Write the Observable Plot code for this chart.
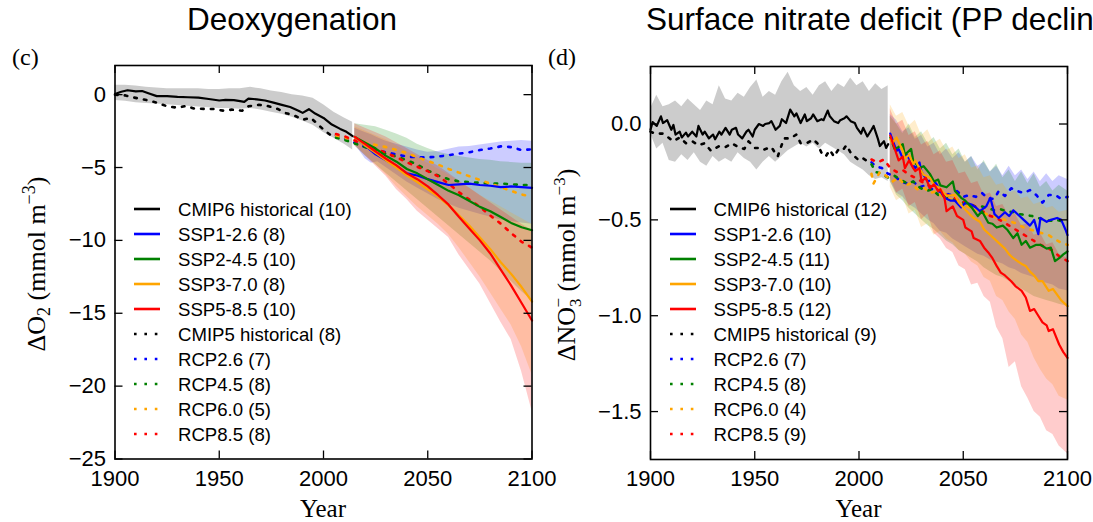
<!DOCTYPE html>
<html><head><meta charset="utf-8">
<script src="https://cdn.jsdelivr.net/npm/d3@7"></script>
<script src="https://cdn.jsdelivr.net/npm/@observablehq/plot@0.6"></script>
<style>
html,body{margin:0;padding:0;background:#fff;overflow:hidden;}
#root{position:relative;width:1093px;height:522px;overflow:hidden;background:#fff;}
.panel{position:absolute;top:0;}
#overlay{position:absolute;left:0;top:0;pointer-events:none;}
</style></head><body><div id="root"><div id="p1" class="panel" style="left:0;width:546px"></div><div id="p2" class="panel" style="left:546px;width:547px"></div></div>
<script>
// ---------- shared ----------
const xTicks = [1900, 1950, 2000, 2050, 2100];
const o2Ticks = [0, -5, -10, -15, -20, -25];
const no3Ticks = [0, -0.5, -1.0, -1.5];
const seriesColors = ["black", "#0000ff", "#008000", "#ffa500", "#ff0000"];
const titles = ["Deoxygenation", "Surface nitrate deficit (PP decline)"];
const panelLetters = ["(c)", "(d)"];
const o2Legend = ["CMIP6 historical (10)", "SSP1-2.6 (8)", "SSP2-4.5 (10)", "SSP3-7.0 (8)", "SSP5-8.5 (10)", "CMIP5 historical (8)", "RCP2.6 (7)", "RCP4.5 (8)", "RCP6.0 (5)", "RCP8.5 (8)"];
const no3Legend = ["CMIP6 historical (12)", "SSP1-2.6 (10)", "SSP2-4.5 (11)", "SSP3-7.0 (10)", "SSP5-8.5 (12)", "CMIP5 historical (9)", "RCP2.6 (7)", "RCP4.5 (8)", "RCP6.0 (4)", "RCP8.5 (9)"];

// ---------- panel (c): O2 ----------
const o2Cmip6Hist = [[1900,0.05],[1903,0.2],[1906,0.3],[1910,0.22],[1913,0.25],[1916,0.1],[1920,-0.1],[1925,-0.1],[1930,-0.15],[1935,-0.18],[1940,-0.2],[1945,-0.3],[1950,-0.4],[1953,-0.36],[1957,-0.38],[1960,-0.45],[1962,-0.5],[1964,-0.27],[1968,-0.32],[1972,-0.4],[1976,-0.55],[1980,-0.7],[1984,-0.85],[1988,-1.1],[1990,-1.25],[1993,-1.0],[1996,-1.3],[2000,-1.6],[2004,-2.05],[2008,-2.35],[2011,-2.55],[2014,-2.85]];
const o2Cmip6Band = [[1900,-0.4,0.65],[1905,-0.45,0.65],[1910,-0.55,0.6],[1915,-0.6,0.5],[1920,-0.65,0.45],[1925,-0.7,0.4],[1930,-0.75,0.4],[1935,-0.8,0.4],[1940,-0.85,0.4],[1945,-0.9,0.35],[1950,-0.95,0.35],[1955,-0.95,0.4],[1960,-1.0,0.4],[1965,-0.95,0.5],[1970,-1.05,0.4],[1975,-1.2,0.25],[1980,-1.35,0.15],[1985,-1.55,0.0],[1990,-1.8,-0.1],[1995,-2.1,-0.25],[2000,-2.6,-0.7],[2005,-3.0,-1.2],[2010,-3.4,-1.6],[2014,-3.8,-1.9]];
const o2Ssp126 = [[2015,-2.9],[2020,-3.5],[2025,-4.1],[2030,-4.5],[2035,-4.9],[2040,-5.4],[2045,-5.55],[2050,-5.8],[2055,-6.0],[2060,-6.2],[2065,-6.15],[2070,-6.1],[2075,-6.2],[2080,-6.25],[2085,-6.35],[2090,-6.3],[2095,-6.35],[2100,-6.4]];
const o2Ssp245 = [[2015,-2.9],[2020,-3.3],[2025,-3.7],[2030,-4.2],[2035,-4.6],[2040,-5.1],[2045,-5.4],[2050,-5.8],[2055,-6.2],[2060,-6.6],[2065,-6.9],[2070,-7.3],[2075,-7.7],[2080,-8.0],[2085,-8.4],[2090,-8.8],[2095,-9.1],[2100,-9.3]];
const o2Ssp370 = [[2015,-2.9],[2020,-3.5],[2025,-4.0],[2030,-4.5],[2035,-5.0],[2040,-5.55],[2045,-6.0],[2050,-6.5],[2055,-7.0],[2060,-7.6],[2065,-8.3],[2070,-9.0],[2075,-9.8],[2080,-10.6],[2085,-11.5],[2090,-12.3],[2095,-13.2],[2100,-14.2]];
const o2Ssp585 = [[2015,-2.9],[2020,-3.4],[2025,-3.9],[2030,-4.4],[2035,-4.85],[2040,-5.4],[2045,-5.8],[2050,-6.3],[2055,-6.9],[2060,-7.55],[2065,-8.4],[2070,-9.2],[2075,-10.0],[2080,-10.9],[2085,-12.0],[2090,-13.1],[2095,-14.3],[2100,-15.5]];
const o2BandSsp126 = [[2015,-3.4,-2.3],[2020,-4.4,-2.6],[2023,-4.7,-2.75],[2026,-4.6,-2.95],[2030,-5.0,-3.2],[2035,-5.5,-3.4],[2040,-6.0,-3.6],[2045,-6.4,-3.8],[2050,-6.8,-3.95],[2055,-7.2,-3.9],[2060,-7.5,-3.75],[2065,-7.8,-3.6],[2070,-8.0,-3.55],[2075,-8.2,-3.45],[2080,-8.4,-3.35],[2085,-8.6,-3.25],[2090,-8.7,-3.2],[2095,-8.8,-3.15],[2100,-8.9,-3.2]];
const o2BandSsp245 = [[2015,-3.5,-2.0],[2020,-4.2,-2.1],[2025,-4.8,-2.2],[2030,-5.4,-2.45],[2035,-6.0,-2.7],[2040,-6.6,-3.0],[2045,-7.2,-3.4],[2050,-7.8,-3.7],[2055,-8.4,-3.95],[2060,-9.0,-4.1],[2065,-9.6,-4.25],[2070,-10.2,-4.35],[2075,-10.8,-4.45],[2080,-11.4,-4.5],[2085,-12.1,-4.6],[2090,-12.8,-4.65],[2095,-13.5,-4.7],[2100,-14.1,-4.7]];
const o2BandSsp370 = [[2015,-3.4,-2.2],[2020,-4.1,-2.5],[2025,-4.8,-2.8],[2030,-5.5,-3.1],[2035,-6.3,-3.5],[2040,-7.0,-3.9],[2045,-7.7,-4.3],[2050,-8.3,-4.7],[2055,-8.9,-5.1],[2060,-9.6,-5.5],[2065,-10.5,-6.0],[2070,-11.5,-6.4],[2075,-12.5,-6.9],[2080,-13.6,-7.3],[2085,-14.7,-7.7],[2090,-15.8,-8.1],[2095,-17.3,-8.5],[2100,-19.2,-8.9]];
const o2BandSsp585 = [[2015,-3.5,-2.0],[2020,-4.2,-2.3],[2025,-4.9,-2.6],[2030,-5.6,-2.9],[2035,-6.5,-3.3],[2040,-7.2,-3.7],[2045,-8.0,-4.1],[2050,-8.6,-4.5],[2055,-9.2,-4.9],[2060,-9.8,-5.4],[2065,-11.0,-5.9],[2070,-12.0,-6.4],[2075,-13.0,-6.9],[2080,-14.3,-7.4],[2085,-15.6,-7.9],[2090,-16.8,-8.4],[2095,-19.0,-8.9],[2100,-21.7,-9.3]];
const o2Cmip5Hist = [[1900,0.0],[1905,-0.05],[1908,-0.17],[1912,-0.28],[1916,-0.4],[1920,-0.55],[1925,-0.8],[1930,-0.9],[1934,-0.78],[1938,-0.95],[1943,-0.98],[1947,-0.98],[1952,-1.1],[1956,-1.03],[1961,-1.1],[1964,-0.8],[1969,-0.7],[1973,-0.77],[1978,-0.98],[1982,-1.27],[1986,-1.43],[1990,-1.72],[1994,-1.6],[1997,-2.0],[2000,-2.4],[2005,-2.95]];
const o2Rcp26 = [[2006,-2.8],[2010,-3.0],[2015,-3.3],[2020,-3.6],[2025,-3.8],[2030,-3.95],[2035,-4.1],[2040,-4.25],[2045,-4.3],[2050,-4.3],[2055,-4.25],[2060,-4.15],[2065,-4.05],[2070,-3.95],[2075,-3.8],[2080,-3.7],[2085,-3.55],[2090,-3.6],[2095,-3.8],[2100,-3.75]];
const o2Rcp45 = [[2006,-2.95],[2010,-3.1],[2015,-3.35],[2020,-3.6],[2025,-3.85],[2030,-4.05],[2035,-4.25],[2040,-4.5],[2045,-4.8],[2050,-5.2],[2055,-5.55],[2060,-5.8],[2065,-5.95],[2070,-6.0],[2075,-6.05],[2080,-6.1],[2085,-6.1],[2090,-6.15],[2095,-6.2],[2100,-6.2]];
const o2Rcp60 = [[2006,-2.8],[2010,-2.95],[2015,-3.1],[2020,-3.3],[2025,-3.45],[2030,-3.6],[2035,-3.8],[2040,-4.0],[2045,-4.3],[2050,-4.55],[2055,-4.8],[2060,-5.1],[2065,-5.35],[2070,-5.6],[2075,-5.85],[2080,-6.1],[2085,-6.35],[2090,-6.6],[2095,-6.85],[2100,-7.0]];
const o2Rcp85 = [[2006,-2.7],[2010,-2.85],[2015,-3.15],[2020,-3.45],[2025,-3.7],[2030,-4.0],[2035,-4.3],[2040,-4.65],[2045,-4.95],[2050,-5.25],[2055,-5.6],[2060,-6.1],[2065,-6.7],[2070,-7.2],[2075,-7.7],[2080,-8.3],[2085,-8.85],[2090,-9.5],[2095,-10.1],[2100,-10.5]];

// ---------- panel (d): NO3 ----------
const no3Cmip6Hist = [[1900,-0.03],[1901,0.01],[1903,-0.01],[1904,0.015],[1905,0.04],[1906,0.005],[1908,0.02],[1909,-0.005],[1910,-0.03],[1911,-0.005],[1912,-0.055],[1914,-0.04],[1915,-0.07],[1917,-0.045],[1918,-0.065],[1920,-0.04],[1922,-0.065],[1923,-0.01],[1925,-0.055],[1926,-0.04],[1928,-0.075],[1930,-0.055],[1931,-0.08],[1933,-0.04],[1934,-0.055],[1936,-0.02],[1938,-0.055],[1939,-0.03],[1941,-0.02],[1942,-0.055],[1944,-0.075],[1946,-0.04],[1947,-0.03],[1949,-0.065],[1950,-0.03],[1952,0.0],[1954,-0.01],[1955,0.0],[1957,0.005],[1958,0.015],[1960,-0.03],[1962,-0.01],[1963,0.025],[1965,0.005],[1967,0.075],[1969,0.04],[1970,0.055],[1972,0.005],[1974,0.05],[1975,0.015],[1977,0.03],[1978,0.05],[1980,0.015],[1982,0.025],[1983,0.02],[1985,0.07],[1986,0.04],[1988,0.015],[1990,0.005],[1991,0.02],[1993,0.03],[1994,0.04],[1996,0.015],[1998,0.005],[1999,-0.02],[2001,-0.05],[2002,-0.02],[2004,-0.065],[2006,-0.03],[2007,-0.01],[2009,-0.075],[2010,-0.115],[2012,-0.09],[2013,-0.125],[2014,-0.105]];
const no3Cmip6Band = [[1900,-0.05,0.08],[1903,-0.13,0.15],[1906,-0.1,0.09],[1909,-0.19,0.1],[1912,-0.2,0.12],[1915,-0.16,0.09],[1918,-0.19,0.13],[1921,-0.15,0.1],[1924,-0.2,0.07],[1927,-0.22,0.12],[1930,-0.17,0.1],[1933,-0.2,0.2],[1936,-0.18,0.13],[1939,-0.2,0.12],[1942,-0.15,0.16],[1945,-0.18,0.14],[1948,-0.2,0.19],[1951,-0.24,0.23],[1954,-0.2,0.14],[1957,-0.17,0.17],[1960,-0.2,0.15],[1963,-0.17,0.22],[1966,-0.14,0.27],[1969,-0.12,0.2],[1972,-0.1,0.17],[1975,-0.12,0.19],[1978,-0.1,0.15],[1981,-0.13,0.2],[1984,-0.1,0.22],[1987,-0.12,0.17],[1990,-0.14,0.21],[1993,-0.16,0.19],[1996,-0.2,0.24],[1999,-0.22,0.2],[2002,-0.24,0.22],[2005,-0.27,0.17],[2008,-0.29,0.21],[2011,-0.28,0.18],[2014,-0.3,0.2]];
const no3Ssp126 = [[2015,-0.05],[2018,-0.14],[2019,-0.13],[2021,-0.18],[2023,-0.16],[2025,-0.2],[2027,-0.23],[2029,-0.2],[2030,-0.25],[2033,-0.3],[2035,-0.29],[2037,-0.31],[2039,-0.35],[2041,-0.385],[2044,-0.4],[2046,-0.4],[2049,-0.435],[2051,-0.41],[2054,-0.42],[2056,-0.435],[2058,-0.455],[2061,-0.43],[2063,-0.385],[2065,-0.47],[2067,-0.49],[2070,-0.46],[2072,-0.48],[2074,-0.45],[2077,-0.48],[2079,-0.5],[2082,-0.53],[2084,-0.5],[2086,-0.575],[2087,-0.49],[2090,-0.51],[2092,-0.5],[2095,-0.49],[2097,-0.5],[2099,-0.55],[2100,-0.58]];
const no3Ssp245 = [[2015,-0.07],[2017,-0.13],[2019,-0.12],[2021,-0.105],[2022,-0.16],[2025,-0.13],[2026,-0.19],[2029,-0.23],[2031,-0.22],[2034,-0.26],[2036,-0.3],[2038,-0.29],[2039,-0.32],[2042,-0.33],[2045,-0.3],[2046,-0.35],[2049,-0.385],[2051,-0.4],[2054,-0.435],[2057,-0.48],[2059,-0.455],[2062,-0.515],[2064,-0.52],[2066,-0.54],[2069,-0.53],[2071,-0.55],[2074,-0.595],[2076,-0.57],[2078,-0.63],[2080,-0.61],[2082,-0.645],[2085,-0.63],[2087,-0.63],[2090,-0.65],[2092,-0.645],[2094,-0.715],[2096,-0.7],[2098,-0.68],[2100,-0.665]];
const no3Ssp370 = [[2015,-0.08],[2016,-0.1],[2018,-0.07],[2021,-0.14],[2022,-0.18],[2024,-0.16],[2026,-0.21],[2027,-0.19],[2029,-0.23],[2031,-0.265],[2034,-0.28],[2036,-0.32],[2038,-0.33],[2040,-0.35],[2042,-0.375],[2046,-0.37],[2048,-0.41],[2050,-0.435],[2053,-0.47],[2055,-0.49],[2058,-0.51],[2060,-0.55],[2062,-0.57],[2065,-0.6],[2067,-0.62],[2070,-0.65],[2072,-0.68],[2074,-0.7],[2076,-0.715],[2078,-0.73],[2080,-0.74],[2082,-0.77],[2084,-0.79],[2086,-0.82],[2088,-0.82],[2091,-0.87],[2093,-0.86],[2095,-0.89],[2097,-0.92],[2100,-0.95]];
const no3Ssp585 = [[2015,-0.06],[2017,-0.125],[2019,-0.19],[2021,-0.17],[2022,-0.23],[2024,-0.19],[2026,-0.23],[2027,-0.245],[2029,-0.23],[2030,-0.3],[2032,-0.28],[2034,-0.335],[2036,-0.315],[2038,-0.35],[2039,-0.34],[2041,-0.385],[2042,-0.455],[2045,-0.43],[2047,-0.48],[2050,-0.5],[2051,-0.54],[2054,-0.56],[2055,-0.595],[2058,-0.61],[2060,-0.645],[2062,-0.67],[2064,-0.7],[2066,-0.74],[2068,-0.775],[2070,-0.79],[2073,-0.82],[2075,-0.845],[2078,-0.87],[2080,-0.905],[2082,-0.975],[2084,-0.965],[2086,-1.0],[2088,-1.035],[2090,-1.05],[2091,-1.08],[2093,-1.07],[2096,-1.15],[2098,-1.19],[2100,-1.22]];
const no3BandSsp126 = [[2015,-0.3,0.05],[2018,-0.36,0.02],[2021,-0.38,-0.04],[2024,-0.42,-0.02],[2027,-0.44,-0.08],[2030,-0.47,-0.06],[2033,-0.5,-0.12],[2036,-0.52,-0.1],[2039,-0.56,-0.16],[2042,-0.57,-0.13],[2045,-0.6,-0.18],[2048,-0.62,-0.15],[2051,-0.64,-0.2],[2054,-0.66,-0.17],[2057,-0.68,-0.22],[2060,-0.69,-0.2],[2063,-0.71,-0.25],[2066,-0.72,-0.22],[2069,-0.73,-0.27],[2072,-0.75,-0.22],[2075,-0.76,-0.27],[2078,-0.78,-0.24],[2081,-0.79,-0.29],[2084,-0.8,-0.25],[2087,-0.82,-0.3],[2090,-0.83,-0.26],[2093,-0.84,-0.3],[2096,-0.86,-0.27],[2100,-0.87,-0.29]];
const no3BandSsp245 = [[2015,-0.3,0.04],[2018,-0.37,0.0],[2021,-0.4,-0.05],[2024,-0.44,0.0],[2027,-0.47,-0.07],[2030,-0.5,-0.04],[2033,-0.53,-0.1],[2036,-0.55,-0.07],[2039,-0.58,-0.13],[2042,-0.61,-0.1],[2045,-0.63,-0.16],[2048,-0.66,-0.13],[2051,-0.68,-0.2],[2054,-0.7,-0.17],[2057,-0.72,-0.24],[2060,-0.75,-0.19],[2063,-0.77,-0.25],[2066,-0.79,-0.21],[2069,-0.8,-0.28],[2072,-0.82,-0.24],[2075,-0.84,-0.3],[2078,-0.86,-0.25],[2081,-0.88,-0.31],[2084,-0.9,-0.26],[2087,-0.91,-0.33],[2090,-0.92,-0.3],[2093,-0.93,-0.35],[2096,-0.94,-0.32],[2100,-0.95,-0.35]];
const no3BandSsp370 = [[2015,-0.33,0.1],[2018,-0.4,0.04],[2021,-0.38,0.06],[2024,-0.47,-0.01],[2027,-0.45,0.02],[2030,-0.54,-0.06],[2033,-0.52,-0.03],[2036,-0.58,-0.1],[2039,-0.56,-0.08],[2042,-0.6,-0.14],[2045,-0.62,-0.12],[2048,-0.66,-0.18],[2051,-0.68,-0.16],[2054,-0.72,-0.23],[2057,-0.74,-0.22],[2060,-0.8,-0.28],[2063,-0.82,-0.27],[2066,-0.9,-0.32],[2069,-0.92,-0.31],[2072,-0.98,-0.36],[2075,-1.02,-0.35],[2078,-1.1,-0.39],[2081,-1.14,-0.38],[2084,-1.22,-0.42],[2087,-1.28,-0.41],[2090,-1.33,-0.44],[2093,-1.36,-0.43],[2096,-1.42,-0.46],[2100,-1.44,-0.45]];
const no3BandSsp585 = [[2015,-0.28,0.08],[2018,-0.36,0.0],[2021,-0.34,0.02],[2024,-0.43,-0.06],[2027,-0.41,-0.04],[2030,-0.5,-0.11],[2033,-0.47,-0.09],[2036,-0.57,-0.16],[2039,-0.6,-0.14],[2042,-0.65,-0.2],[2045,-0.67,-0.19],[2048,-0.74,-0.26],[2051,-0.76,-0.25],[2054,-0.84,-0.31],[2057,-0.83,-0.3],[2060,-0.9,-0.37],[2063,-0.93,-0.36],[2066,-1.06,-0.43],[2069,-1.12,-0.42],[2072,-1.27,-0.48],[2075,-1.24,-0.47],[2078,-1.37,-0.53],[2081,-1.43,-0.52],[2084,-1.5,-0.58],[2087,-1.53,-0.57],[2090,-1.6,-0.63],[2093,-1.62,-0.62],[2096,-1.68,-0.68],[2100,-1.72,-0.7]];
const no3Cmip5Hist = [[1900,-0.04],[1902,-0.05],[1906,-0.05],[1911,-0.09],[1914,-0.07],[1917,-0.1],[1920,-0.09],[1923,-0.11],[1926,-0.1],[1929,-0.14],[1933,-0.115],[1936,-0.12],[1939,-0.1],[1942,-0.12],[1945,-0.13],[1947,-0.09],[1950,-0.125],[1952,-0.125],[1954,-0.135],[1958,-0.12],[1960,-0.155],[1961,-0.17],[1964,-0.075],[1967,-0.075],[1970,-0.055],[1972,-0.1],[1975,-0.1],[1978,-0.08],[1980,-0.1],[1982,-0.15],[1984,-0.17],[1986,-0.135],[1988,-0.17],[1990,-0.135],[1992,-0.14],[1994,-0.11],[1996,-0.15],[1998,-0.17],[2000,-0.19],[2002,-0.18],[2005,-0.2]];
const no3Rcp26 = [[2006,-0.2],[2008,-0.22],[2011,-0.23],[2014,-0.26],[2017,-0.27],[2020,-0.3],[2023,-0.31],[2026,-0.3],[2029,-0.33],[2032,-0.32],[2035,-0.34],[2038,-0.35],[2041,-0.36],[2044,-0.37],[2047,-0.35],[2050,-0.38],[2053,-0.37],[2056,-0.38],[2059,-0.36],[2062,-0.39],[2065,-0.39],[2067,-0.35],[2070,-0.375],[2073,-0.335],[2076,-0.35],[2079,-0.36],[2082,-0.345],[2085,-0.37],[2088,-0.41],[2091,-0.37],[2094,-0.37],[2097,-0.39],[2100,-0.38]];
const no3Rcp45 = [[2006,-0.21],[2008,-0.25],[2011,-0.26],[2014,-0.28],[2017,-0.27],[2020,-0.29],[2023,-0.31],[2026,-0.3],[2029,-0.33],[2032,-0.35],[2035,-0.34],[2038,-0.37],[2041,-0.37],[2044,-0.39],[2047,-0.4],[2050,-0.41],[2053,-0.42],[2056,-0.43],[2059,-0.43],[2062,-0.44],[2065,-0.45],[2068,-0.445],[2071,-0.455],[2074,-0.46],[2077,-0.47],[2080,-0.475],[2083,-0.48],[2086,-0.49],[2089,-0.5],[2092,-0.505],[2095,-0.5],[2098,-0.51],[2100,-0.51]];
const no3Rcp60 = [[2006,-0.26],[2007,-0.31],[2010,-0.25],[2013,-0.27],[2016,-0.3],[2019,-0.28],[2022,-0.32],[2025,-0.31],[2028,-0.34],[2031,-0.33],[2034,-0.36],[2037,-0.35],[2040,-0.38],[2043,-0.39],[2046,-0.4],[2049,-0.42],[2052,-0.43],[2055,-0.45],[2058,-0.45],[2061,-0.47],[2064,-0.48],[2067,-0.49],[2070,-0.5],[2073,-0.51],[2076,-0.52],[2079,-0.54],[2082,-0.55],[2085,-0.56],[2088,-0.57],[2091,-0.58],[2094,-0.6],[2097,-0.62],[2100,-0.63]];
const no3Rcp85 = [[2006,-0.185],[2009,-0.2],[2012,-0.185],[2015,-0.23],[2018,-0.25],[2021,-0.24],[2024,-0.265],[2027,-0.28],[2030,-0.3],[2033,-0.32],[2036,-0.33],[2039,-0.35],[2042,-0.37],[2045,-0.38],[2048,-0.4],[2051,-0.41],[2054,-0.42],[2057,-0.44],[2060,-0.46],[2063,-0.48],[2066,-0.49],[2069,-0.51],[2072,-0.53],[2075,-0.55],[2078,-0.57],[2081,-0.59],[2084,-0.61],[2087,-0.63],[2090,-0.645],[2093,-0.66],[2096,-0.69],[2100,-0.715]];

// ---------- drawing ----------
const SANS = "'Liberation Sans', Arial, Helvetica, sans-serif";
const SERIF = "'Liberation Serif', 'Times New Roman', serif";
const band = (data, color) => Plot.areaY(data, {x: d => d[0], y1: d => d[1], y2: d => d[2], fill: color, fillOpacity: 0.2});
const solid = (data, color) => Plot.line(data, {x: d => d[0], y: d => d[1], stroke: color, strokeWidth: 2.2});
const dotted = (data, color) => Plot.line(data, {x: d => d[0], y: d => d[1], stroke: color, strokeWidth: 2.6, strokeDasharray: "2.6,7.2"});

function panel({width, height, ml, mr, mt, mb, ydomain, yticks, yfmt, bands, lines, dots}) {
  const pw = width - ml - mr, ph = height - mt - mb;
  return Plot.plot({
    width, height, marginLeft: ml, marginRight: mr, marginTop: mt, marginBottom: mb,
    x: {domain: [1900, 2100]},
    y: {domain: ydomain},
    style: {fontFamily: SANS, fontSize: "22px", background: "transparent", overflow: "visible"},
    marks: [
      ...bands.map((b, i) => band(b, seriesColors[i])),
      ...dots.map((d, i) => dotted(d, seriesColors[i])),
      ...lines.map((l, i) => solid(l, seriesColors[i])),
      Plot.frame({stroke: "black", strokeWidth: 1.6}),
      Plot.ruleX(xTicks, {insetTop: ph - 8, stroke: "black", strokeWidth: 1.3}),
      Plot.ruleX(xTicks, {insetBottom: ph - 8, stroke: "black", strokeWidth: 1.3}),
      Plot.ruleY(yticks, {insetRight: pw - 8, stroke: "black", strokeWidth: 1.3}),
      Plot.ruleY(yticks, {insetLeft: pw - 8, stroke: "black", strokeWidth: 1.3}),
      Plot.axisX({ticks: xTicks, tickSize: 0, tickPadding: 11, tickFormat: d3.format("d"), label: null, fontSize: 22, fill: "black"}),
      Plot.axisY({ticks: yticks, tickSize: 0, tickPadding: 9, tickFormat: yfmt, label: null, fontSize: 22, fill: "black"})
    ]
  });
}

document.getElementById("p1").append(panel({
  width: 546, height: 522, ml: 114.5, mr: 14.5, mt: 65, mb: 63.5,
  ydomain: [-25, 2], yticks: o2Ticks, yfmt: d3.format("d"),
  bands: [o2Cmip6Band, o2BandSsp126, o2BandSsp245, o2BandSsp370, o2BandSsp585],
  lines: [o2Cmip6Hist, o2Ssp126, o2Ssp245, o2Ssp370, o2Ssp585],
  dots: [o2Cmip5Hist, o2Rcp26, o2Rcp45, o2Rcp60, o2Rcp85]
}));
document.getElementById("p2").append(panel({
  width: 547, height: 522, ml: 104, mr: 26, mt: 66, mb: 63,
  ydomain: [-1.75, 0.3], yticks: no3Ticks, yfmt: d3.format(".1f"),
  bands: [no3Cmip6Band, no3BandSsp126, no3BandSsp245, no3BandSsp370, no3BandSsp585],
  lines: [no3Cmip6Hist, no3Ssp126, no3Ssp245, no3Ssp370, no3Ssp585],
  dots: [no3Cmip5Hist, no3Rcp26, no3Rcp45, no3Rcp60, no3Rcp85]
}));

// ---------- text overlay: titles, letters, axis names, legends ----------
function legend(labels, lx, tx) {
  return labels.map((t, i) => {
    const y = 209 + i * 25;
    const c = seriesColors[i % 5];
    const dash = i >= 5 ? ' stroke-dasharray="2.6 7.8" stroke-width="2.6"' : ' stroke-width="2.6"';
    return `<line x1="${lx}" x2="${lx + 26}" y1="${y}" y2="${y}" stroke="${c}"${dash}/>` +
      `<text x="${tx}" y="${y + 6.5}" font-family="${SANS}" font-size="18.6">${t}</text>`;
  }).join("");
}
const ov = `<svg id="overlay" width="1093" height="522" xmlns="http://www.w3.org/2000/svg">
<text x="292" y="30" text-anchor="middle" font-family="${SANS}" font-size="31.5">${titles[0]}</text>
<text x="646" y="30" font-family="${SANS}" font-size="31.5">${titles[1]}</text>
<text x="12" y="65" font-family="${SERIF}" font-size="24">${panelLetters[0]}</text>
<text x="548" y="65" font-family="${SERIF}" font-size="24">${panelLetters[1]}</text>
<text x="323" y="517" text-anchor="middle" font-family="${SERIF}" font-size="25">Year</text>
<text x="858.5" y="517" text-anchor="middle" font-family="${SERIF}" font-size="25">Year</text>
<text transform="translate(45,264) rotate(-90)" text-anchor="middle" font-family="${SERIF}" font-size="26">ΔO<tspan font-size="18" dy="5">2</tspan><tspan dy="-5"> (mmol m</tspan><tspan font-size="18" dy="-10">−3</tspan><tspan dy="10">)</tspan></text>
<text transform="translate(575,265) rotate(-90)" text-anchor="middle" font-family="${SERIF}" font-size="26">ΔNO<tspan font-size="17" dy="6">3</tspan><tspan font-size="17" dx="-9" dy="-17">−</tspan><tspan dy="11"> (mmol m</tspan><tspan font-size="17" dy="-10">−3</tspan><tspan dy="10">)</tspan></text>
${legend(o2Legend, 134, 178)}
${legend(no3Legend, 670, 713.5)}
</svg>`;
document.getElementById("root").insertAdjacentHTML("beforeend", ov);
</script></body></html>
